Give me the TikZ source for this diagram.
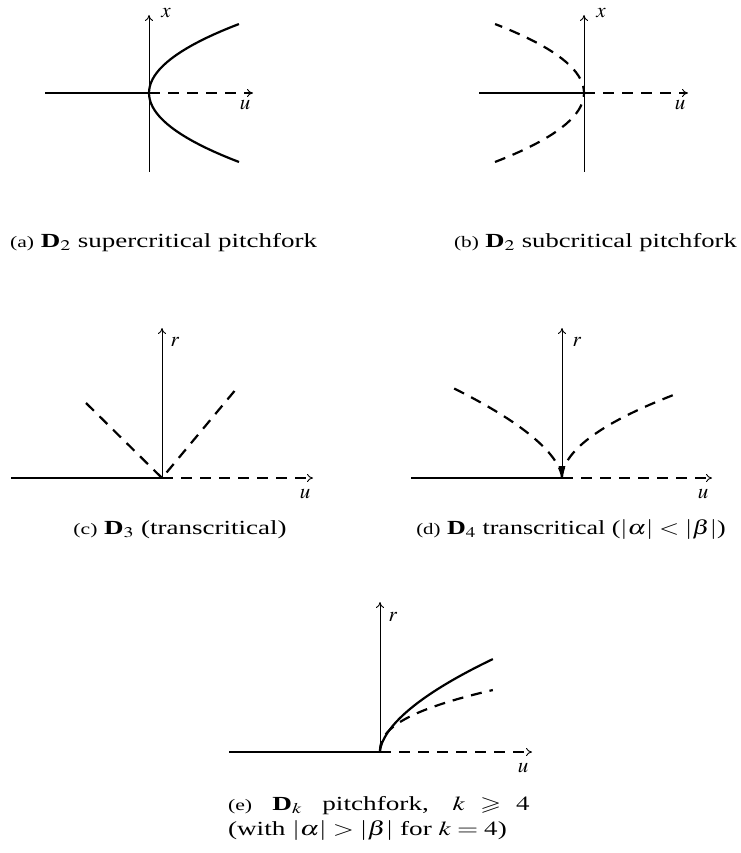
\documentclass[tikz,border=0pt]{standalone}
\usepackage{graphicx}
\usepackage{amssymb}
\usepackage{mathptmx}
\usepackage{fontspec}
\setmainfont{Liberation Serif}
\usetikzlibrary{arrows.meta}
\tikzset{
  ax/.style={line width=0.9pt},
  uptip/.style={-{To[line width=0.9pt,length=6pt,width=8pt]}},
  sol/.style={line width=2.2pt},
  dsh/.style={line width=2.2pt, dash pattern=on 11pt off 8pt},
  lab/.style={inner sep=0pt, font=\fontsize{21}{21}\selectfont},
  capt/.style={inner sep=0pt, font=\fontsize{20}{24}\selectfont},
}
\newcommand{\smalllab}[1]{{\fontsize{16}{16}\selectfont #1}}
\newcommand{\wide}[2]{\scalebox{#1}[1]{#2}}
\begin{document}
\begin{tikzpicture}[x=1pt,y=-1pt]
\useasboundingbox (0,0) rectangle (740,853);
% ---------- (a)
\coordinate (Oa) at (149,93);
\coordinate (Ta) at (149,15);
\coordinate (Ba) at (149,172);
\coordinate (La) at (45,93);
\coordinate (Ra) at (253,93);
\draw[ax,uptip] (Ba) -- (Ta);
\draw[sol] (La) -- (Oa);
\draw[dsh,uptip] (Oa) -- (Ra);
\draw[sol] plot[domain=-1:1,samples=41,variable=\t] ({149+90*\t*\t},{93-69*\t});
\node[lab] (xa) at (166,13) {$x$};
\node[lab] (ua) at (245,105) {$u$};
\node[capt, anchor=west] (ca) at (10,243) {\wide{1.35}{\smalllab{(a)} \textbf{D}$_2$ supercritical pitchfork}};
% ---------- (b)
\coordinate (Ob) at (584,93);
\coordinate (Tb) at (584,15);
\coordinate (Bb) at (584,172);
\coordinate (Lb) at (479,93);
\coordinate (Rb) at (688,93);
\draw[ax,uptip] (Bb) -- (Tb);
\draw[sol] (Lb) -- (Ob);
\draw[dsh,uptip] (Ob) -- (Rb);
\draw[dsh] plot[domain=-1:1,samples=41,variable=\t] ({584-89*\t*\t},{93-69*\t});
\node[lab] (xb) at (601,13) {$x$};
\node[lab] (ub) at (680,105) {$u$};
\node[capt, anchor=east] (cb) at (737,243) {\wide{1.33}{\smalllab{(b)} \textbf{D}$_2$ subcritical pitchfork}};
% ---------- (c)
\coordinate (Oc) at (162,478);
\coordinate (Tc) at (162,328);
\coordinate (Lc) at (11,478);
\coordinate (Rc) at (313,478);
\coordinate (Pc) at (86,403);
\coordinate (Qc) at (237,388);
\draw[ax,uptip] (Oc) -- (Tc);
\draw[sol] (Lc) -- (Oc);
\draw[dsh,uptip] (Oc) -- (Rc);
\draw[dsh] (Pc) -- (Oc) -- (Qc);
\node[lab] (rc) at (175,342) {$r$};
\node[lab] (uc) at (305,494) {$u$};
\node[capt] (cc) at (180,530) {\wide{1.35}{\smalllab{(c)} \textbf{D}$_3$ (transcritical)}};
% ---------- (d)
\coordinate (Od) at (562,478);
\coordinate (Td) at (562,328);
\coordinate (Ld) at (411,478);
\coordinate (Rd) at (712,478);
\draw[sol] (Ld) -- (Od);
\draw[dsh,uptip] (Od) -- (Rd);
\draw[dsh] (Od) -- plot[domain=0.001:1,samples=50,variable=\t] ({562-113*\t^1.67},{478-92*\t});
\draw[dsh] (Od) -- plot[domain=0.001:1,samples=50,variable=\t] ({562+114*\t^1.92},{478-84*\t});
\draw[ax,{Latex[length=12pt,width=7pt]}-{To[line width=0.9pt,length=6pt,width=8pt]}] (Od) -- (Td);
\node[lab] (rd) at (577,342) {$r$};
\node[lab] (ud) at (703,494) {$u$};
\node[capt] (cd) at (571,530) {\wide{1.3}{\smalllab{(d)} \textbf{D}$_4$ transcritical ($|\alpha|<|\beta|$)}};
% ---------- (e)
\coordinate (Oe) at (380,752);
\coordinate (Te) at (380,602);
\coordinate (Le) at (229,752);
\coordinate (Re) at (532,752);
\draw[ax,uptip] (Oe) -- (Te);
\draw[sol] (Le) -- (Oe);
\draw[dsh,uptip] (Oe) -- (Re);
\draw[sol] (Oe) -- plot[domain=0.001:1,samples=60,variable=\t] ({380+113*\t^1.72},{752-93*\t});
\draw[dsh] (Oe) -- plot[domain=0.001:1,samples=60,variable=\t] ({380+113*\t^2.38},{752-62*\t});
\node[lab] (re) at (393,617) {$r$};
\node[lab] (ue) at (523,768) {$u$};
\node[capt, anchor=base] (ce) at (379,810) {\wide{1.36}{\parbox[t]{222pt}{\fontsize{20}{25}\selectfont\smalllab{(e)} \textbf{D}$_k$ pitchfork, $k \geqslant 4$\linebreak (with $|\alpha|>|\beta|$ for $k=4$)}}};
\end{tikzpicture}
\end{document}
